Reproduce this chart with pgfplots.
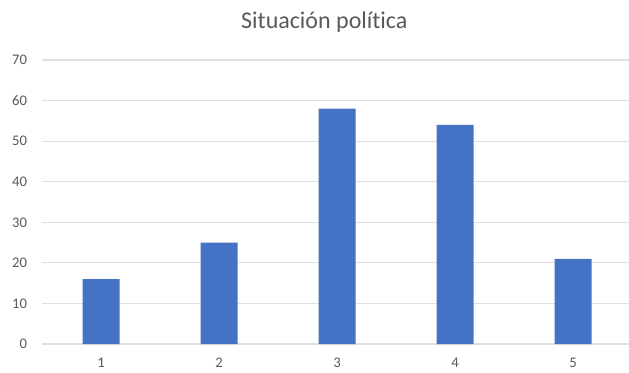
\documentclass[border=0pt]{standalone}
\usepackage{pgfplots}
\pgfplotsset{compat=1.18}
\usepackage{fontspec}
\setmainfont[Ligatures=NoCommon]{Carlito}

\definecolor{barblue}{HTML}{4472C4}
\definecolor{txtgray}{HTML}{595959}
\definecolor{gridgray}{HTML}{E0E0E0}

\begin{document}
\begin{tikzpicture}
  \begin{axis}[
      scale only axis,
      width=440.25pt, height=213pt,
      xmin=0.5, xmax=5.474,
      ymin=0, ymax=70,
      ytick={0,10,...,70},
      xtick={1,2,3,4,5},
      axis x line*=bottom,
      axis y line*=left,
      x axis line style={gridgray, line width=0.8pt},
      y axis line style={draw=none},
      ymajorgrids,
      grid style={gridgray, line width=0.8pt},
      major tick length=0pt,
      tick label style={font=\fontsize{11}{13}\selectfont, text=txtgray},
      yticklabel style={anchor=east, inner sep=0pt, xshift=-11pt},
      xticklabel style={anchor=north, inner sep=0pt, yshift=-10.5pt},
      /pgf/number format/assume math mode=true,
      every axis title shift=0pt,
      title={Situación política},
      title style={at={(axis description cs:0.481,1.134)}, anchor=center,
                   font=\fontsize{18}{21}\selectfont, text=txtgray},
    ]
    \addplot[ybar, bar width=27.75pt, fill=barblue, draw=none]
      coordinates {(1,16) (2,25) (3,58) (4,54) (5,21)};
  \end{axis}
  \pgfresetboundingbox
  \path[use as bounding box] (-31.5pt,-21pt) rectangle (440.25pt,258pt);
\end{tikzpicture}
\end{document}
